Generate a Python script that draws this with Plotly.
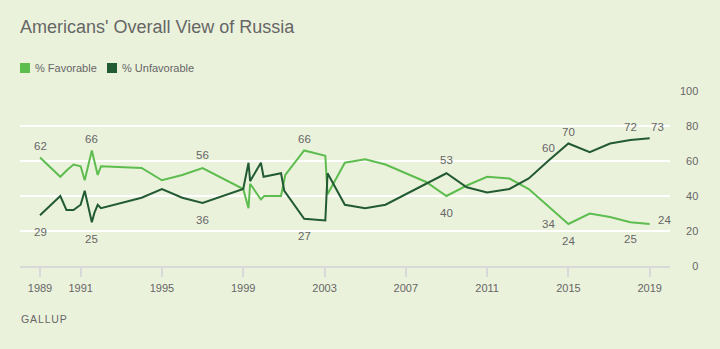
import plotly.graph_objects as go

# ---- data (fractional survey years) ----
fav_x = [1989.0, 1990.0, 1990.35, 1990.65, 1991.0, 1991.2, 1991.55, 1991.84, 1992.0,
         1994.0, 1995.0, 1996.0, 1997.0, 1999.0, 1999.26, 1999.34, 1999.87, 2000.03,
         2000.86, 2001.07, 2002.0, 2003.04, 2003.15, 2004.0, 2005.0, 2006.0, 2007.0,
         2008.0, 2009.0, 2010.0, 2011.0, 2012.1, 2013.05, 2014.0, 2015.0, 2016.05,
         2017.05, 2018.05, 2019.0]
fav_y = [62, 51, 55, 58, 57, 49, 66, 52, 57,
         56, 49, 52, 56, 44, 33, 47, 38, 40,
         40, 52, 66, 63, 41, 59, 61, 58, 53,
         48, 40, 46, 51, 50, 44, 34, 24, 30,
         28, 25, 24]

unfav_x = [1989.0, 1990.0, 1990.3, 1990.65, 1991.0, 1991.2, 1991.55, 1991.68, 1991.84,
           1992.0, 1994.0, 1995.0, 1996.0, 1997.0, 1999.0, 1999.26, 1999.34, 1999.87,
           2000.0, 2000.86, 2001.02, 2002.0, 2003.04, 2003.15, 2004.0, 2005.0, 2006.0,
           2007.0, 2008.0, 2009.0, 2010.0, 2011.0, 2012.1, 2013.05, 2014.0, 2015.0,
           2016.05, 2017.05, 2018.05, 2019.0]
unfav_y = [29, 40, 32, 32, 35, 43, 25, 30.5, 35,
           33, 39, 44, 39, 36, 44, 59, 48.5, 59,
           51, 53, 43, 27, 26, 53, 35, 33, 35,
           41, 47, 53, 45, 42, 44, 50, 60, 70,
           65, 70, 72, 73]

# labelled points: (x, value, yshift, xshift)
fav_labels = [(1989.0, 62, 12, 0), (1991.55, 66, 12, 0), (1997.0, 56, 13, 0),
              (2002.0, 66, 12, 0), (2009.0, 40, -17, 0), (2014.0, 34, -17, 0),
              (2015.0, 24, -17, 0), (2018.05, 25, -17, 0), (2019.0, 24, 4, 15)]
unfav_labels = [(1989.0, 29, -17, 0), (1991.55, 25, -17, 0), (1997.0, 36, -17, 0),
                (2002.0, 27, -17, 0), (2009.0, 53, 13, 0), (2014.0, 60, 13, 0),
                (2015.0, 70, 12, 0), (2018.05, 72, 13, 0), (2019.0, 73, 11, 8)]

x_ticks = [1989, 1991, 1995, 1999, 2003, 2007, 2011, 2015, 2019]
y_ticks = [0, 20, 40, 60, 80, 100]

title = "Americans' Overall View of Russia"
series_names = ["% Favorable", "% Unfavorable"]
source = "GALLUP"

# ---- style ----
BG = "#ebf2dc"
LIGHT = "#5dbd4f"
DARK = "#225a34"
TXT = "#666666"
FONT = "Liberation Sans, Arial, sans-serif"

fig = go.Figure()
fig.add_trace(go.Scatter(x=fav_x, y=fav_y, mode="lines", name=series_names[0],
                         line=dict(color=LIGHT, width=2), showlegend=False,
                         hoverinfo="skip"))
fig.add_trace(go.Scatter(x=unfav_x, y=unfav_y, mode="lines", name=series_names[1],
                         line=dict(color=DARK, width=2), showlegend=False,
                         hoverinfo="skip"))

annotations = []
for (x, v, ys, xs) in fav_labels + unfav_labels:
    annotations.append(dict(x=x, y=v, xref="x", yref="y", text=str(v), showarrow=False,
                            yshift=ys, xshift=xs, font=dict(size=11.5, color=TXT, family=FONT)))

PW = 650.0   # plot width in px
PH = 175.0   # plot height in px
def px_x(p):
    return (p - 20) / PW
def px_y(p):
    return (266 - p) / PH

annotations.append(dict(x=px_x(18), y=px_y(27), xref="paper", yref="paper", text=title,
                        showarrow=False, xanchor="left", yanchor="middle",
                        font=dict(size=18, color=TXT, family=FONT)))
annotations.append(dict(x=px_x(33), y=px_y(68), xref="paper", yref="paper", text=series_names[0],
                        showarrow=False, xanchor="left", yanchor="middle",
                        font=dict(size=11, color=TXT, family=FONT)))
annotations.append(dict(x=px_x(120), y=px_y(68), xref="paper", yref="paper", text=series_names[1],
                        showarrow=False, xanchor="left", yanchor="middle",
                        font=dict(size=11, color=TXT, family=FONT)))
annotations.append(dict(x=px_x(19), y=px_y(319), xref="paper", yref="paper",
                        text="\u200a".join(source),
                        showarrow=False, xanchor="left", yanchor="middle",
                        font=dict(size=10.5, color=TXT, family=FONT)))

shapes = [
    dict(type="rect", xref="paper", yref="paper", x0=px_x(20), x1=px_x(30),
         y0=px_y(73), y1=px_y(63), fillcolor=LIGHT, line=dict(width=0)),
    dict(type="rect", xref="paper", yref="paper", x0=px_x(107), x1=px_x(117),
         y0=px_y(73), y1=px_y(63), fillcolor=DARK, line=dict(width=0)),
]

FS = "\u2007"
y_text = [FS * (3 - len(str(v))) + str(v) for v in y_ticks]

fig.update_layout(
    width=720, height=349,
    margin=dict(l=20, r=50, t=91, b=83),
    paper_bgcolor=BG, plot_bgcolor=BG,
    font=dict(family=FONT, size=11, color=TXT),
    annotations=annotations, shapes=shapes,
    showlegend=False,
    xaxis=dict(range=[1988.016, 2020.0], tickvals=x_ticks, ticktext=[str(t) for t in x_ticks],
               showgrid=False, zeroline=False, ticks="outside", ticklen=9, tickwidth=2,
               tickcolor="#d9d9d9", showline=True, linecolor="#d9d9d9", linewidth=2,
               tickfont=dict(size=11, color=TXT, family=FONT), fixedrange=True,
               ticklabelstandoff=2),
    yaxis=dict(range=[0, 100], tickvals=y_ticks, ticktext=y_text, side="right",
               showgrid=True, gridcolor="#ffffff", gridwidth=2, zeroline=False,
               ticks="", ticklabelstandoff=9, showline=False,
               tickfont=dict(size=11, color=TXT, family=FONT), fixedrange=True),
)

fig.write_html("out.html", config={"displayModeBar": False})
